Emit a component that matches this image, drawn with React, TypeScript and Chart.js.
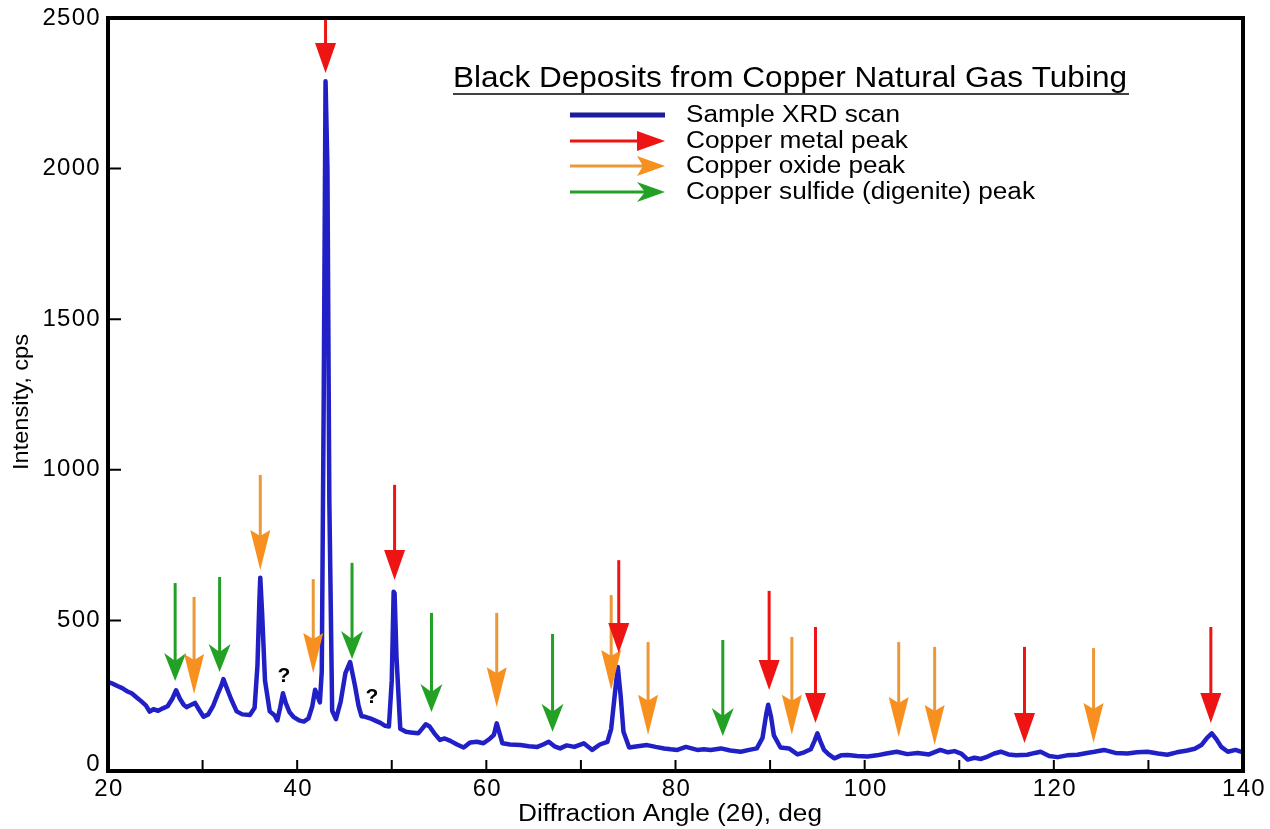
import React, { useEffect, useRef } from "react";
import { Chart, registerables } from "chart.js";

Chart.register(...registerables);

// ---- Sample XRD scan (2θ in degrees, intensity in cps) ----
const scanAngle = [
  20, 20.5, 21, 21.5, 22, 22.5, 23, 23.5, 24, 24.4,
  24.8, 25.3, 25.8, 26.3, 26.8, 27.2, 27.6, 28.0, 28.3, 28.7,
  29.2, 29.6, 30.1, 30.6, 31.1, 31.6, 32.0, 32.2, 32.5, 33.0,
  33.6, 34.2, 35.0, 35.5, 35.8, 36.0, 36.1, 36.3, 36.6, 37.1,
  37.6, 37.9, 38.2, 38.5, 38.8, 39.2, 39.6, 40.2, 40.7, 41.2,
  41.6, 41.9, 42.2, 42.4, 42.6, 42.8, 43.0, 43.2, 43.4, 43.7,
  44.1, 44.6, 45.1, 45.6, 46.1, 46.5, 46.8, 47.2, 47.7, 48.2,
  48.8, 49.3, 49.7, 50.0, 50.2, 50.3, 50.5, 50.9, 51.5, 52.0,
  52.8, 53.2, 53.6, 54.0, 54.5, 55.1, 55.6, 56.2, 56.9, 57.6,
  58.3, 59.0, 59.7, 60.4, 60.8, 61.1, 61.4, 61.7, 62.5, 63.6,
  64.5, 65.4, 66.0, 66.6, 67.2, 67.8, 68.5, 69.3, 70.3, 71.2,
  72.0, 72.8, 73.2, 73.6, 73.9, 74.2, 74.5, 75.1, 76.0, 77.0,
  77.9, 78.8, 79.5, 80.2, 81.1, 81.7, 82.3, 83.0, 83.7, 84.8,
  85.8, 86.9, 87.8, 88.6, 89.2, 89.6, 89.8, 90.1, 90.4, 91.1,
  92.0, 92.9, 93.6, 94.3, 94.7, 95.0, 95.3, 95.7, 96.2, 96.8,
  97.5, 98.2, 99.2, 100.3, 101.3, 102.3, 103.4, 104.5, 105.6, 106.8,
  108.0, 108.8, 109.5, 110.2, 110.9, 111.6, 112.3, 113.0, 113.7, 114.4,
  115.2, 116.0, 117.2, 118.0, 118.6, 119.5, 120.4, 121.4, 122.5, 123.5,
  124.3, 125.3, 126.5, 127.8, 128.8, 129.9, 131.0, 132.0, 133.0, 134.1,
  134.9, 135.6, 136.2, 136.7, 137.2, 137.7, 138.4, 139.2, 140,
];
const scanIntensity = [
  295, 290, 282, 275, 265, 258, 245, 232, 218, 197,
  205, 200, 208, 215, 240, 268, 240, 220, 212, 218,
  226, 205, 180, 188, 215, 255, 285, 305, 280, 240,
  198, 188, 186, 210, 350, 560, 642, 520, 300, 198,
  185, 168, 210, 258, 225, 195, 180, 168, 164, 175,
  215, 270, 245, 228, 330, 1200, 2290, 2000, 900, 200,
  172, 230, 325, 362, 285, 215, 182, 180, 175, 168,
  160, 150, 148, 300, 595, 590, 380, 140, 130, 128,
  125, 140, 155, 148, 125, 103, 108, 100, 88, 78,
  95, 97, 92, 108, 120, 158, 125, 92, 88, 86,
  82, 80, 88, 97, 82, 75, 85, 80, 92, 70,
  88, 97, 140, 260, 345, 250, 130, 78, 82, 86,
  80, 75, 72, 70, 80, 75, 70, 72, 70, 75,
  68, 64, 70, 75, 110, 190, 220, 180, 118, 78,
  75, 55, 62, 72, 100, 125, 100, 70, 55, 42,
  52, 53, 50, 48, 52, 58, 64, 56, 60, 55,
  70, 62, 66, 58, 38, 44, 40, 48, 58, 64,
  55, 52, 54, 60, 64, 50, 46, 52, 54, 60,
  64, 70, 60, 58, 62, 64, 58, 54, 62, 68,
  74, 86, 110, 125, 105, 80, 64, 70, 62,
];

// ---- Peak arrows: angle, arrow tail (top) and tip, in cps ----
const metalArrowAngle = [43.0, 50.3, 74.0, 89.9, 94.8, 116.9, 136.6];
const metalArrowTop = [2500, 950, 700, 598, 478, 412, 478];
const metalArrowTip = [2317, 634, 392, 269, 159, 93, 159];

const oxideArrowAngle = [29.1, 36.1, 41.7, 61.1, 73.2, 77.1, 92.3, 103.6, 107.4, 124.2];
const oxideArrowTop = [578, 983, 637, 525, 584, 428, 445, 428, 412, 408];
const oxideArrowTip = [256, 667, 325, 212, 269, 120, 120, 113, 86, 93];

const sulfideArrowAngle = [27.1, 31.8, 45.8, 54.2, 67.0, 85.0];
const sulfideArrowTop = [624, 644, 691, 525, 455, 435];
const sulfideArrowTip = [299, 329, 372, 196, 130, 116];

const unknownAngle = [38.6, 47.9];
const unknownIntensity = [315, 246];

// ---- Axes and text ----
const xMin = 20, xMax = 140, xStep = 10;
const xTickLabels = [20, 40, 60, 80, 100, 120, 140];
const yMin = 0, yMax = 2500, yStep = 500;
const yTickLabels = [0, 500, 1000, 1500, 2000, 2500];
const chartTitle = "Black Deposits from Copper Natural Gas Tubing";
const legendLabels = [
  "Sample XRD scan",
  "Copper metal peak",
  "Copper oxide peak",
  "Copper sulfide (digenite) peak",
];
const xAxisTitle = "Diffraction Angle (2\u03b8), deg";
const yAxisTitle = "Intensity, cps";

const FONT = "'Liberation Sans', Arial, Helvetica, sans-serif";
const SCAN_COLOR = "#2020c6";
const LEGEND_SCAN_COLOR = "#1c1c9e";
const RED = "#ee1414";
const ORANGE = "#f7901e";
const GREEN = "#22a124";

type HeadStyle = { w: number; h: number; notch: number; color: string; line: string };
const headStyles: Record<string, HeadStyle> = {
  metal: { w: 21, h: 30, notch: 0, color: RED, line: RED },
  oxide: { w: 20, h: 40, notch: 6, color: ORANGE, line: "#ec9838" },
  sulfide: { w: 22, h: 28, notch: 8, color: GREEN, line: GREEN },
};

function drawDownArrow(ctx: CanvasRenderingContext2D, x: number, yTop: number, yTip: number, s: HeadStyle) {
  ctx.save();
  ctx.strokeStyle = s.line;
  ctx.lineWidth = 3;
  ctx.beginPath();
  ctx.moveTo(x, yTop);
  ctx.lineTo(x, yTip - s.h + s.notch + 1);
  ctx.stroke();
  ctx.fillStyle = s.color;
  ctx.beginPath();
  ctx.moveTo(x - s.w / 2, yTip - s.h);
  ctx.lineTo(x, yTip - s.h + s.notch);
  ctx.lineTo(x + s.w / 2, yTip - s.h);
  ctx.lineTo(x, yTip);
  ctx.closePath();
  ctx.fill();
  ctx.restore();
}

function drawRightArrow(ctx: CanvasRenderingContext2D, x0: number, x1: number, y: number, s: HeadStyle) {
  ctx.save();
  ctx.strokeStyle = s.line;
  ctx.lineWidth = 3;
  const hl = Math.min(s.h, 28);
  ctx.beginPath();
  ctx.moveTo(x0, y);
  ctx.lineTo(x1 - hl + s.notch + 1, y);
  ctx.stroke();
  ctx.fillStyle = s.color;
  ctx.beginPath();
  ctx.moveTo(x1 - hl, y - 10);
  ctx.lineTo(x1 - hl + s.notch, y);
  ctx.lineTo(x1 - hl, y + 10);
  ctx.lineTo(x1, y);
  ctx.closePath();
  ctx.fill();
  ctx.restore();
}

function fitText(ctx: CanvasRenderingContext2D, text: string, x: number, y: number, width: number) {
  const w = ctx.measureText(text).width;
  ctx.save();
  ctx.translate(x, y);
  ctx.scale(width / w, 1);
  ctx.fillText(text, 0, 0);
  ctx.restore();
}

const decorPlugin = {
  id: "xrdDecor",
  afterDatasetsDraw(chart: any) {
    const ctx: CanvasRenderingContext2D = chart.ctx;
    const { left, right, top, bottom } = chart.chartArea;
    const xs = chart.scales.x;
    const ys = chart.scales.y;

    // arrows
    const groups: [number[], number[], number[], HeadStyle][] = [
      [sulfideArrowAngle, sulfideArrowTop, sulfideArrowTip, headStyles.sulfide],
      [oxideArrowAngle, oxideArrowTop, oxideArrowTip, headStyles.oxide],
      [metalArrowAngle, metalArrowTop, metalArrowTip, headStyles.metal],
    ];
    for (const [ang, topV, tipV, st] of groups) {
      ang.forEach((a, i) => {
        drawDownArrow(ctx, xs.getPixelForValue(a), ys.getPixelForValue(topV[i]), ys.getPixelForValue(tipV[i]), st);
      });
    }

    // question marks
    ctx.save();
    ctx.fillStyle = "#000";
    ctx.font = `bold 21px ${FONT}`;
    ctx.textAlign = "center";
    ctx.textBaseline = "middle";
    unknownAngle.forEach((a, i) => {
      ctx.fillText("?", xs.getPixelForValue(a), ys.getPixelForValue(unknownIntensity[i]));
    });
    ctx.restore();

    // frame
    ctx.save();
    ctx.strokeStyle = "#000";
    ctx.lineWidth = 4;
    ctx.strokeRect(left, top, right - left, bottom - top);
    // inward ticks
    ctx.lineWidth = 2;
    ctx.beginPath();
    for (let v = xMin + xStep; v < xMax; v += xStep) {
      const px = xs.getPixelForValue(v);
      ctx.moveTo(px, bottom);
      ctx.lineTo(px, bottom - 11);
    }
    for (let v = yMin + yStep; v < yMax; v += yStep) {
      const py = ys.getPixelForValue(v);
      ctx.moveTo(left, py);
      ctx.lineTo(left + 13, py);
    }
    ctx.stroke();
    ctx.restore();

    // tick labels
    ctx.save();
    ctx.fillStyle = "#000";
    ctx.font = `24px ${FONT}`;
    (ctx as any).letterSpacing = "1.3px";
    ctx.textBaseline = "middle";
    ctx.textAlign = "right";
    yTickLabels.forEach((v) => {
      const py = ys.getPixelForValue(v) - (v === yMin ? 7 : 0);
      ctx.fillText(String(v), left - 7, py);
    });
    ctx.textAlign = "center";
    xTickLabels.forEach((v) => {
      ctx.fillText(String(v), xs.getPixelForValue(v) + 1, bottom + 18);
    });
    ctx.restore();

    // title
    ctx.save();
    ctx.fillStyle = "#000";
    ctx.textBaseline = "alphabetic";
    ctx.textAlign = "left";
    ctx.font = `30px ${FONT}`;
    fitText(ctx, chartTitle, 453, 87, 674);
    ctx.lineWidth = 1.5;
    ctx.beginPath();
    ctx.moveTo(453, 94);
    ctx.lineTo(1129, 94);
    ctx.stroke();

    // legend
    const rowY = [115, 141, 166, 192];
    const textW = [214, 222, 219, 349];
    ctx.save();
    ctx.strokeStyle = LEGEND_SCAN_COLOR;
    ctx.lineWidth = 5;
    ctx.beginPath();
    ctx.moveTo(570, rowY[0]);
    ctx.lineTo(665, rowY[0]);
    ctx.stroke();
    ctx.restore();
    drawRightArrow(ctx, 570, 665, rowY[1], headStyles.metal);
    drawRightArrow(ctx, 570, 665, rowY[2], headStyles.oxide);
    drawRightArrow(ctx, 570, 665, rowY[3], headStyles.sulfide);
    ctx.font = `23px ${FONT}`;
    ctx.textBaseline = "middle";
    legendLabels.forEach((t, i) => fitText(ctx, t, 686, rowY[i] + 1, textW[i]));

    // axis titles
    ctx.font = `23px ${FONT}`;
    ctx.textBaseline = "middle";
    ctx.textAlign = "left";
    fitText(ctx, xAxisTitle, 518, 815, 304);
    ctx.save();
    ctx.translate(22, 402);
    ctx.rotate(-Math.PI / 2);
    ctx.font = `22px ${FONT}`;
    fitText(ctx, yAxisTitle, -68, 0, 136);
    ctx.restore();
    ctx.restore();
  },
};

export default function App() {
  const canvasRef = useRef<HTMLCanvasElement | null>(null);

  useEffect(() => {
    document.body.style.margin = "0";
    const canvas = canvasRef.current;
    if (!canvas) return;
    const points = scanAngle.map((a, i) => ({ x: a, y: scanIntensity[i] }));
    const chart = new Chart(canvas, {
      type: "line",
      data: {
        datasets: [
          {
            label: legendLabels[0],
            data: points,
            borderColor: SCAN_COLOR,
            borderWidth: 4.5,
            pointRadius: 0,
            tension: 0,
            fill: false,
            borderJoinStyle: "round",
          },
        ],
      },
      options: {
        animation: false,
        responsive: false,
        devicePixelRatio: 1,
        layout: { padding: { top: 18, right: 27, left: 0, bottom: 0 } },
        plugins: { legend: { display: false }, tooltip: { enabled: false }, title: { display: false } },
        scales: {
          x: {
            type: "linear",
            min: xMin,
            max: xMax,
            grid: { display: false },
            border: { display: false },
            ticks: { display: false, stepSize: xStep },
            afterFit: (s: any) => {
              s.height = 58;
            },
          },
          y: {
            type: "linear",
            min: yMin,
            max: yMax,
            grid: { display: false },
            border: { display: false },
            ticks: { display: false, stepSize: yStep },
            afterFit: (s: any) => {
              s.width = 108;
            },
          },
        },
      },
      plugins: [decorPlugin],
    });
    return () => chart.destroy();
  }, []);

  return (
    <div style={{ width: 1270, height: 829, background: "#fff" }}>
      <canvas ref={canvasRef} width={1270} height={829} style={{ width: 1270, height: 829, display: "block" }} />
    </div>
  );
}
